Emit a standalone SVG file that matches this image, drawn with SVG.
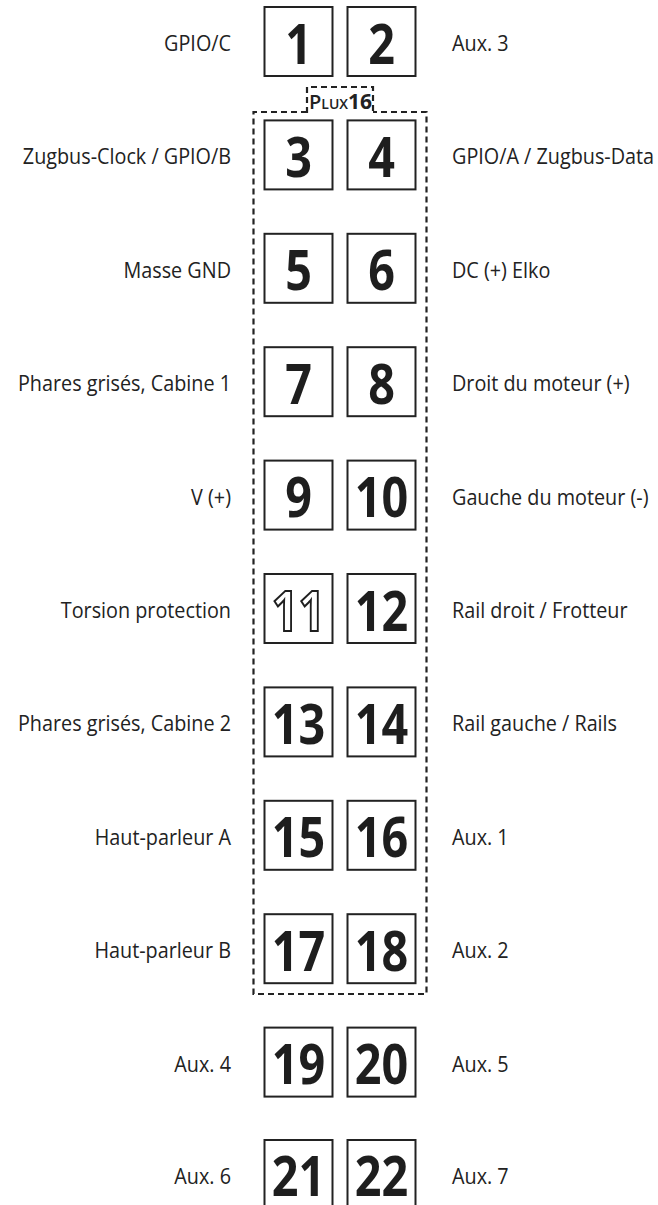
<svg xmlns="http://www.w3.org/2000/svg" width="658" height="1205" viewBox="0 0 658 1205">
<style>
.box{fill:#fff;stroke:#222;stroke-width:2}
.num{font-family:"Open Sans","Liberation Sans",sans-serif;font-weight:bold;font-size:55px;fill:#1e1e1e;text-anchor:middle}
.out{fill:#fff;stroke:#1e1e1e;stroke-width:2.2}
.lbl{font-family:"Open Sans","Liberation Sans",sans-serif;font-size:22px;fill:#222}
.l{text-anchor:end}
.r{text-anchor:start}
.dash{fill:none;stroke:#222;stroke-width:2.2;stroke-dasharray:6 4}
</style>
<rect width="658" height="1205" fill="#fff"/>
<g id="plux16">
<path class="dash" d="M307,112 H253.5 V994 H426.5 V112 H373"/>
<path class="dash" d="M307,113 V87 H373 V113"/>
<text x="309" y="109" font-family="'Open Sans','Liberation Sans',sans-serif" font-weight="600" font-size="20" fill="#222">P<tspan font-size="14">LUX</tspan><tspan font-weight="bold" font-size="21">16</tspan></text>
</g>
<g id="pin1"><rect class="box" x="264.5" y="7" width="68" height="69"/><text class="num" transform="translate(298.5,63.5) scale(0.85,1)">1</text><text class="lbl l" transform="translate(231,51) scale(0.9,1)">GPIO/C</text></g>
<g id="pin2"><rect class="box" x="347.5" y="7" width="68" height="69"/><text class="num" transform="translate(381.5,63.5) scale(0.85,1)">2</text><text class="lbl r" transform="translate(452,51) scale(0.9,1)">Aux. 3</text></g>
<g id="pin3"><rect class="box" x="264.5" y="120.4" width="68" height="69"/><text class="num" transform="translate(298.5,176.9) scale(0.85,1)">3</text><text class="lbl l" transform="translate(231,164.4) scale(0.9,1)">Zugbus-Clock / GPIO/B</text></g>
<g id="pin4"><rect class="box" x="347.5" y="120.4" width="68" height="69"/><text class="num" transform="translate(381.5,176.9) scale(0.85,1)">4</text><text class="lbl r" transform="translate(452,164.4) scale(0.9,1)">GPIO/A / Zugbus-Data</text></g>
<g id="pin5"><rect class="box" x="264.5" y="233.8" width="68" height="69"/><text class="num" transform="translate(298.5,290.3) scale(0.85,1)">5</text><text class="lbl l" transform="translate(231,277.8) scale(0.9,1)">Masse GND</text></g>
<g id="pin6"><rect class="box" x="347.5" y="233.8" width="68" height="69"/><text class="num" transform="translate(381.5,290.3) scale(0.85,1)">6</text><text class="lbl r" transform="translate(452,277.8) scale(0.9,1)">DC (+) Elko</text></g>
<g id="pin7"><rect class="box" x="264.5" y="347.2" width="68" height="69"/><text class="num" transform="translate(298.5,403.7) scale(0.85,1)">7</text><text class="lbl l" transform="translate(231,391.2) scale(0.9,1)">Phares grisés, Cabine 1</text></g>
<g id="pin8"><rect class="box" x="347.5" y="347.2" width="68" height="69"/><text class="num" transform="translate(381.5,403.7) scale(0.85,1)">8</text><text class="lbl r" transform="translate(452,391.2) scale(0.9,1)">Droit du moteur (+)</text></g>
<g id="pin9"><rect class="box" x="264.5" y="460.6" width="68" height="69"/><text class="num" transform="translate(298.5,517.1) scale(0.85,1)">9</text><text class="lbl l" transform="translate(231,504.6) scale(0.9,1)">V (+)</text></g>
<g id="pin10"><rect class="box" x="347.5" y="460.6" width="68" height="69"/><text class="num" transform="translate(381.5,517.1) scale(0.85,1)">10</text><text class="lbl r" transform="translate(452,504.6) scale(0.9,1)">Gauche du moteur (-)</text></g>
<g id="pin11"><rect class="box" x="264.5" y="574" width="68" height="69"/><text class="num out" transform="translate(298.5,630.5) scale(0.85,1)">11</text><text class="lbl l" transform="translate(231,618) scale(0.9,1)">Torsion protection</text></g>
<g id="pin12"><rect class="box" x="347.5" y="574" width="68" height="69"/><text class="num" transform="translate(381.5,630.5) scale(0.85,1)">12</text><text class="lbl r" transform="translate(452,618) scale(0.9,1)">Rail droit / Frotteur</text></g>
<g id="pin13"><rect class="box" x="264.5" y="687.4" width="68" height="69"/><text class="num" transform="translate(298.5,743.9) scale(0.85,1)">13</text><text class="lbl l" transform="translate(231,731.4) scale(0.9,1)">Phares grisés, Cabine 2</text></g>
<g id="pin14"><rect class="box" x="347.5" y="687.4" width="68" height="69"/><text class="num" transform="translate(381.5,743.9) scale(0.85,1)">14</text><text class="lbl r" transform="translate(452,731.4) scale(0.9,1)">Rail gauche / Rails</text></g>
<g id="pin15"><rect class="box" x="264.5" y="800.8" width="68" height="69"/><text class="num" transform="translate(298.5,857.3) scale(0.85,1)">15</text><text class="lbl l" transform="translate(231,844.8) scale(0.9,1)">Haut-parleur A</text></g>
<g id="pin16"><rect class="box" x="347.5" y="800.8" width="68" height="69"/><text class="num" transform="translate(381.5,857.3) scale(0.85,1)">16</text><text class="lbl r" transform="translate(452,844.8) scale(0.9,1)">Aux. 1</text></g>
<g id="pin17"><rect class="box" x="264.5" y="914.2" width="68" height="69"/><text class="num" transform="translate(298.5,970.7) scale(0.85,1)">17</text><text class="lbl l" transform="translate(231,958.2) scale(0.9,1)">Haut-parleur B</text></g>
<g id="pin18"><rect class="box" x="347.5" y="914.2" width="68" height="69"/><text class="num" transform="translate(381.5,970.7) scale(0.85,1)">18</text><text class="lbl r" transform="translate(452,958.2) scale(0.9,1)">Aux. 2</text></g>
<g id="pin19"><rect class="box" x="264.5" y="1027.6" width="68" height="69"/><text class="num" transform="translate(298.5,1084.1) scale(0.85,1)">19</text><text class="lbl l" transform="translate(231,1071.6) scale(0.9,1)">Aux. 4</text></g>
<g id="pin20"><rect class="box" x="347.5" y="1027.6" width="68" height="69"/><text class="num" transform="translate(381.5,1084.1) scale(0.85,1)">20</text><text class="lbl r" transform="translate(452,1071.6) scale(0.9,1)">Aux. 5</text></g>
<g id="pin21"><rect class="box" x="264.5" y="1140" width="68" height="69"/><text class="num" transform="translate(298.5,1196) scale(0.85,1)">21</text><text class="lbl l" transform="translate(231,1184) scale(0.9,1)">Aux. 6</text></g>
<g id="pin22"><rect class="box" x="347.5" y="1140" width="68" height="69"/><text class="num" transform="translate(381.5,1196) scale(0.85,1)">22</text><text class="lbl r" transform="translate(452,1184) scale(0.9,1)">Aux. 7</text></g>
<g id="connectors"/>
</svg>
